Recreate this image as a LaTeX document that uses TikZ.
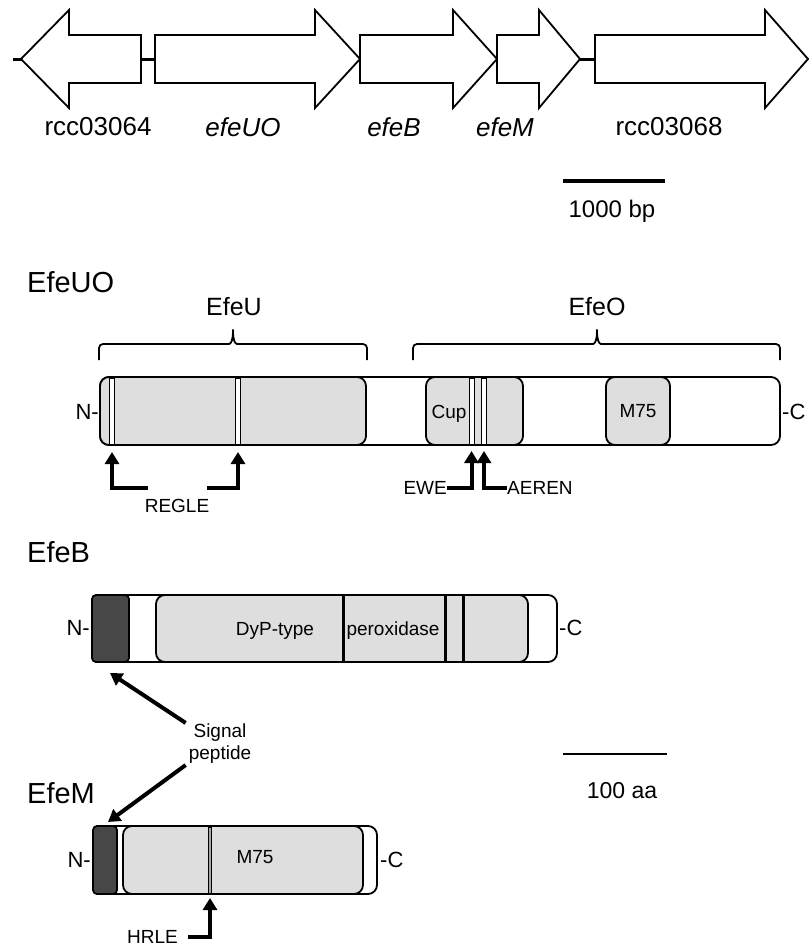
\documentclass[tikz,border=0pt]{standalone}
\usepackage{fontspec}
\setmainfont{Liberation Sans}
\usetikzlibrary{arrows.meta, calc}

\newcommand{\sz}[1]{\fontsize{#1}{#1}\selectfont}

\begin{document}
\begin{tikzpicture}[x=1pt, y=-1pt, >={Triangle[width=14pt, length=12pt]},
    gene/.style={draw, line width=1.8pt, fill=white},
    link/.style={line width=3pt},
    bar/.style={draw, line width=1.8pt, fill=white, rounded corners=9pt},
    dombox/.style={draw, line width=1.8pt, fill=black!13, rounded corners=9pt},
    sigbox/.style={draw, line width=1.8pt, fill=black!72, rounded corners=4pt},
    motif/.style={draw, line width=1pt, fill=white},
    pointer/.style={->, line width=4pt},
    brc/.style={line width=1.8pt, rounded corners=4pt},
    txt/.style={inner sep=0pt, font=\sz{19}},
    term/.style={inner sep=0pt, font=\sz{22}},
    head/.style={anchor=west, inner sep=0pt, font=\sz{29}}]

    \useasboundingbox (0,0) rectangle (810,948);

    % Genes
    \draw[link] (13,59) -- (22,59);
    \draw[link] (140,59) -- (156,59);
    \draw[link] (579,59) -- (596,59);
    \draw[gene] (141,35) -- (69,35) -- (69,10) -- (21,59) -- (69,108) -- (69,83) -- (141,83) -- cycle;
    \foreach \xa/\xb/\xc in {155/315/360, 360/453/497, 497/539/580, 595/765/808}{
        \draw[gene] (\xa,35) -- (\xb,35) -- (\xb,10) -- (\xc,59) -- (\xb,108) -- (\xb,83) -- (\xa,83) -- cycle;
    }
    \foreach \lx/\lt [count=\i] in {98/rcc03064, 243/\textit{efeUO}, 394/\textit{efeB}, 505/\textit{efeM}, 669/rcc03068}{
        \node[inner sep=0pt, font=\sz{26}] (gene\i) at (\lx,127) {\lt};
    }

    % Escala genes
    \draw[line width=4pt] (563,181) -- (665,181);
    \node[inner sep=0pt, font=\sz{24}, anchor=base] (bp) at (612,217) {1000 bp};

    % EfeUO
    \node[head] (tEfeUO) at (27,282) {EfeUO};
    \node[inner sep=0pt, font=\sz{25}] (tEfeU) at (234,307) {EfeU};
    \node[inner sep=0pt, font=\sz{25}] (tEfeO) at (597,307) {EfeO};
    \draw[brc] (99,360) |- (225,344) .. controls (231,344) and (233,340) .. (233,327)
        .. controls (233,340) and (235,344) .. (241,344) -| (367,360);
    \draw[brc] (413,360) |- (589,344) .. controls (595,344) and (597,340) .. (597,327)
        .. controls (597,340) and (599,344) .. (605,344) -| (780,360);
    \draw[bar] (100,377) rectangle (780,445);
    \draw[dombox] (100,377) rectangle (366,445);
    \draw[dombox] (426,377) rectangle (523,445);
    \draw[dombox] (606,377) rectangle (670,445);
    \foreach \mx in {112, 238, 471.5, 484}{
        \draw[motif] (\mx-2.5,378) rectangle (\mx+2.5,444);
    }
    \node[txt, anchor=base] (cup) at (449,418) {Cup};
    \node[txt] (m75a) at (638,411) {M75};
    \node[term, anchor=east] (nUO) at (99,412) {N-};
    \node[term, anchor=west] (cUO) at (782,412) {-C};

    % Motivos EfeUO
    \coordinate (m1) at (112,452);
    \coordinate (m2) at (238,452);
    \coordinate (m3) at (471.5,451);
    \coordinate (m4) at (484,451);
    \coordinate (regA) at (148,488);
    \coordinate (regB) at (207,488);
    \node[txt] (regle) at (177,506) {REGLE};
    \draw[pointer] (regA) -| (m1);
    \draw[pointer] (regB) -| (m2);
    \node[txt, anchor=east] (ewe) at (447,488) {EWE};
    \node[txt, anchor=west] (aeren) at (507,488) {AEREN};
    \draw[pointer] (ewe.east) -| (m3);
    \draw[pointer] (aeren.west) -| (m4);

    % EfeB
    \node[head] (tEfeB) at (27,552) {EfeB};
    \draw[bar] (92,595) rectangle (557,662);
    \draw[dombox] (156,595) rectangle (528,662);
    \draw[sigbox] (92,595) rectangle (129,662);
    \foreach \mx in {343, 445, 463}{
        \draw[line width=3pt] (\mx,596) -- (\mx,661);
    }
    \node[txt, anchor=base] (dyp) at (275,635) {DyP-type};
    \node[txt, anchor=base] (perox) at (393,635) {peroxidase};
    \node[term, anchor=east] (nB) at (90,628) {N-};
    \node[term, anchor=west] (cB) at (559,628) {-C};

    % Peptido senal
    \coordinate (sigB) at (110,673);
    \coordinate (sigM) at (108,822);
    \node[inner sep=0pt, align=center, font=\fontsize{19}{22}\selectfont] (signal) at (220,744) {Signal\\peptide};
    \draw[pointer] ([shift={(-3,-1)}]signal.north west) -- (sigB);
    \draw[pointer] ([shift={(-3,1)}]signal.south west) -- (sigM);

    % Escala proteinas
    \draw[line width=2pt] (563,754) -- (667,754);
    \node[inner sep=0pt, font=\sz{23}, anchor=base] (aa) at (622,798) {100 aa};

    % EfeM
    \node[head] (tEfeM) at (27,793) {EfeM};
    \draw[bar] (93,826) rectangle (377,894);
    \draw[dombox] (123,826) rectangle (363,894);
    \draw[sigbox] (93,826) rectangle (117,894);
    \draw[motif, fill=black!35] (208.5,827) rectangle (211.5,893);
    \node[txt] (m75b) at (255,857) {M75};
    \node[term, anchor=east] (nM) at (91,860) {N-};
    \node[term, anchor=west] (cM) at (380,860) {-C};
    \coordinate (m5) at (210,898);
    \node[txt, anchor=east] (hrle) at (178,937) {HRLE};
    \draw[pointer] ([xshift=10pt]hrle.east) -| (m5);

\end{tikzpicture}
\end{document}
